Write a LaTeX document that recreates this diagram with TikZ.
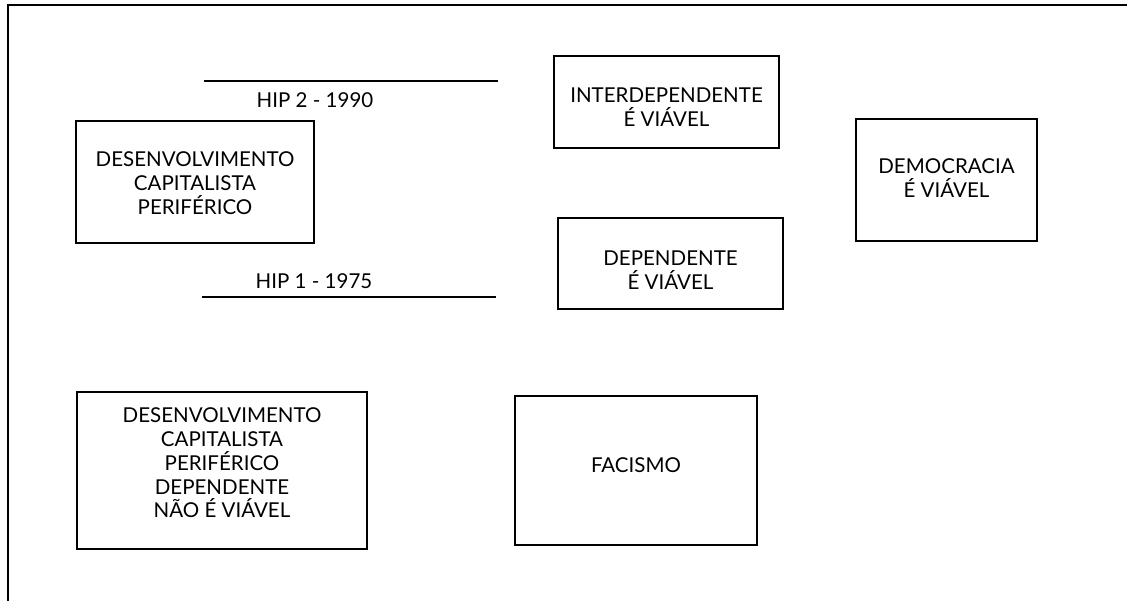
\documentclass[tikz,border=0pt]{standalone}
\usepackage{fontspec}
\setmainfont{Lato}
\tikzset{
  box/.style={draw, line width=1.1pt, inner sep=0pt},
  txt/.style={align=center, font=\fontsize{20.5}{23.8}\selectfont, inner sep=0pt},
  hip/.style={line width=2.4pt},
}
\begin{document}
\begin{tikzpicture}[x=1pt,y=-1pt]
\useasboundingbox (0,0) rectangle (1128,601);
\draw[line width=1.3pt] (8,601) -- (8,5) -- (1127,5);
% HIP lines
\coordinate (h2a) at (204,81); \coordinate (h2b) at (498,81);
\coordinate (h1a) at (202,297); \coordinate (h1b) at (496,297);
\draw[hip] (h2a) -- (h2b);
\draw[hip] (h1a) -- (h1b);
\node[txt] (hip2) at (315,100) {HIP 2 - 1990};
\node[txt] (hip1) at (314,281) {HIP 1 - 1975};
% boxes
\node[box, minimum width=238pt, minimum height=122pt] (b1) at (195,182) {};
\node[txt] (t1) at (195,183) {DESENVOLVIMENTO\\CAPITALISTA\\PERIFÉRICO};
\node[box, minimum width=225pt, minimum height=92pt] (b2) at (666.5,102) {};
\node[txt] (t2) at (666.5,107) {INTERDEPENDENTE\\É VIÁVEL};
\node[box, minimum width=225pt, minimum height=91pt] (b3) at (670.5,263.5) {};
\node[txt] (t3) at (670.5,270) {DEPENDENTE\\É VIÁVEL};
\node[box, minimum width=181pt, minimum height=122pt] (b4) at (946.5,180) {};
\node[txt] (t4) at (946.5,178) {DEMOCRACIA\\É VIÁVEL};
\node[box, minimum width=290pt, minimum height=157pt] (b5) at (222,470.5) {};
\node[txt] (t5) at (222,463) {DESENVOLVIMENTO\\CAPITALISTA\\PERIFÉRICO\\DEPENDENTE\\NÃO É VIÁVEL};
\node[box, minimum width=242pt, minimum height=149pt] (b6) at (636,470.5) {};
\node[txt] (t6) at (636,465) {FACISMO};
\end{tikzpicture}
\end{document}
